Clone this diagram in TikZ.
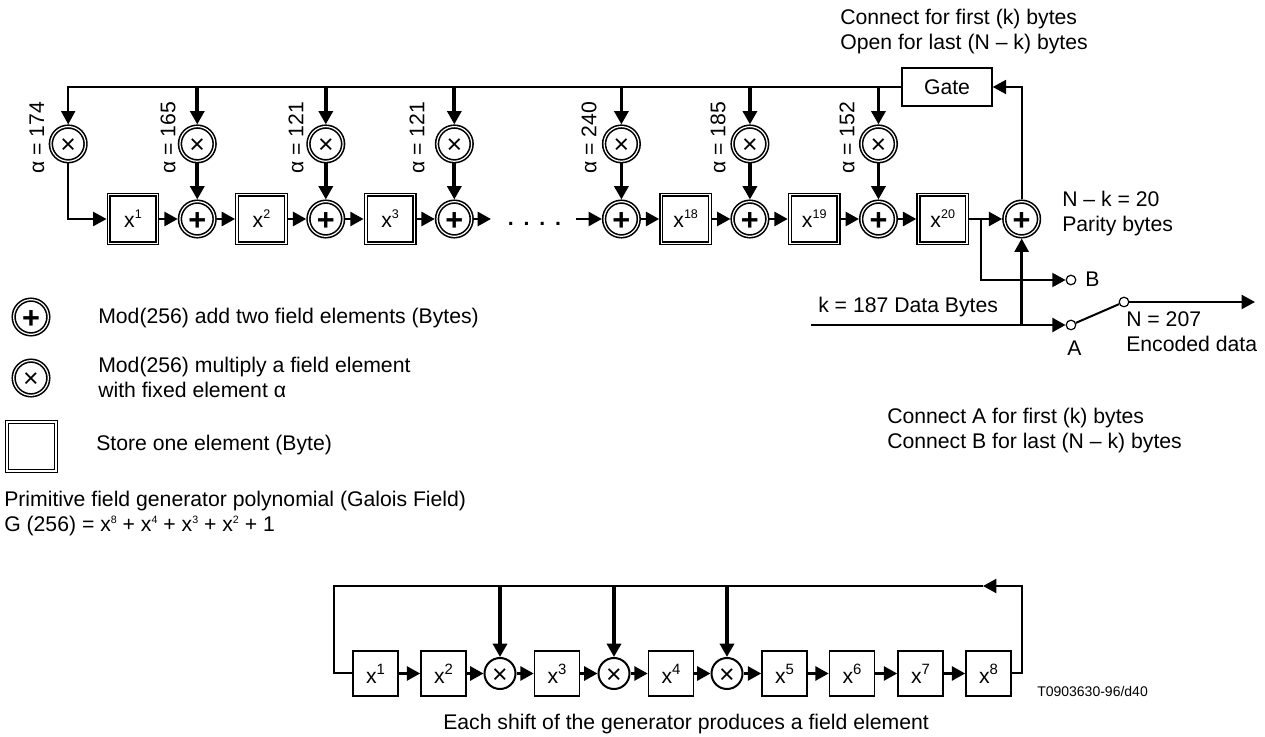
\documentclass[tikz,border=0pt]{standalone}
\usepackage{fontspec}
\setsansfont{Liberation Sans}
\usetikzlibrary{positioning,arrows.meta}
\newcommand{\xpow}[2][9.4]{x\raisebox{.42em}{\fontsize{#1}{#1}\selectfont #2}}

\begin{document}
\begin{tikzpicture}[
  x=0.75pt, y=-0.75pt,
  font=\sffamily\fontsize{15.9}{18.75}\selectfont,
  >={Triangle[length=10pt,width=10.5pt]},
  %% Node styles
  store/.style={
    rectangle, draw=black, line width=1pt, double=white, double distance=1.2pt,
    minimum size=36.5pt, inner sep=0pt, outer sep=1.6pt
  },
  addnode/.style={
    circle, draw=black, line width=1.2pt, double=white, double distance=0.9pt,
    minimum size=26pt, inner sep=0pt, outer sep=1.65pt,
    text height=16.6pt, text depth=0pt,
    font=\sffamily\bfseries\fontsize{23}{23}\selectfont
  },
  mulnode/.style={
    circle, draw=black, line width=1.2pt, double=white, double distance=0.9pt,
    minimum size=26pt, inner sep=0pt, outer sep=1.65pt,
    text height=14.4pt, text depth=0pt,
    font=\sffamily\fontsize{20}{20}\selectfont
  },
  gatebox/.style={
    rectangle, draw=black, line width=1.1pt,
    minimum width=67.5pt, minimum height=28.5pt, inner sep=0pt
  },
  shiftbox/.style={
    rectangle, draw=black, line width=1.2pt,
    minimum size=33.75pt, inner sep=0pt
  },
  gfmul/.style={
    circle, draw=black, line width=1.5pt, fill=white,
    minimum size=23.25pt, inner sep=0pt,
    text height=14.4pt, text depth=0pt,
    font=\sffamily\fontsize{20}{20}\selectfont
  },
  term/.style={
    circle, draw=black, line width=0.9pt, fill=white,
    minimum size=7.2pt, inner sep=0pt
  },
  label/.style={anchor=base west, inner sep=0pt, align=left},
  alphalab/.style={rotate=90, inner sep=0pt},
  %% Arrow styles
  thinline/.style={line width=1.5pt},
  rowarrow/.style={->, line width=2pt},
  feedarrow/.style={->, line width=2.8pt},
]
\useasboundingbox (0,0) rectangle (1265,737);

%% ── Register row ───────────────────────────────────────────────────────────
\node[store] (r1) at (133,219) {\xpow{1}};
\node[addnode, right=13.7pt of r1] (a1) {+};
\node[store, right=13.7pt of a1] (r2) {\xpow{2}};
\node[addnode, right=13.7pt of r2] (a2) {+};
\node[store, right=13.7pt of a2] (r3) {\xpow{3}};
\node[addnode, right=13.7pt of r3] (a3) {+};

\node[addnode, right=96pt of a3] (a18) {+};
\node[store, right=13.7pt of a18] (r18) {\xpow{18}};
\node[addnode, right=13.7pt of r18] (a19) {+};
\node[store, right=13.7pt of a19] (r19) {\xpow{19}};
\node[addnode, right=13.7pt of r19] (a20) {+};
\node[store, right=13.7pt of a20] (r20) {\xpow{20}};
\node[addnode, right=24.7pt of r20] (afin) {+};

%% ── Multipliers ────────────────────────────────────────────────────────────
\node[mulnode, above=27pt of a1] (m1) {×};
\node[mulnode, above=27pt of a2] (m2) {×};
\node[mulnode, above=27pt of a3] (m3) {×};
\node[mulnode, above=27pt of a18] (m18) {×};
\node[mulnode, above=27pt of a19] (m19) {×};
\node[mulnode, above=27pt of a20] (m20) {×};
\node[mulnode, left=67.5pt of m1] (m0) {×};

\node[alphalab] (l0) at (37,138) {α = 174};
\node[alphalab] (l1) at (168,138) {α = 165};
\node[alphalab] (l2) at (296,138) {α = 121};
\node[alphalab] (l3) at (417,138) {α = 121};
\node[alphalab] (l18) at (589,138) {α = 240};
\node[alphalab] (l19) at (718,138) {α = 185};
\node[alphalab] (l20) at (847,138) {α = 152};

%% ── Gate and switch ────────────────────────────────────────────────────────
\node[gatebox] (gate) at (947,87) {Gate};
\node[term] (tb) at (1071,280) {};
\node[term] (ta) at (1071,325) {};
\node[term] (ts) at (1124,302) {};
\coordinate (din) at (811,325);
\coordinate (dout) at (1255,302);
\coordinate (brch) at (981,219);
\coordinate (dots0) at (491,219);
\coordinate (dots1) at (576,219);

%% ── Feedback arrows ────────────────────────────────────────────────────────
\draw[->, thinline] (gate.west) -| (m0);
\draw[feedarrow] (m1 |- gate) -- (m1);
\draw[feedarrow] (m2 |- gate) -- (m2);
\draw[feedarrow] (m3 |- gate) -- (m3);
\draw[feedarrow] (m18 |- gate) -- (m18);
\draw[feedarrow] (m19 |- gate) -- (m19);
\draw[feedarrow] (m20 |- gate) -- (m20);
\draw[feedarrow] (m1) -- (a1);
\draw[feedarrow] (m2) -- (a2);
\draw[feedarrow] (m3) -- (a3);
\draw[feedarrow] (m18) -- (a18);
\draw[feedarrow] (m19) -- (a19);
\draw[feedarrow] (m20) -- (a20);
\draw[->, thinline] (m0) |- (r1);
\draw[->, thinline] (afin) |- (gate.east);

%% ── Row arrows ─────────────────────────────────────────────────────────────
\draw[rowarrow] (r1) -- (a1);
\draw[rowarrow] (a1) -- (r2);
\draw[rowarrow] (r2) -- (a2);
\draw[rowarrow] (a2) -- (r3);
\draw[rowarrow] (r3) -- (a3);
\draw[rowarrow] (a3) -- (dots0);
\draw[rowarrow] (dots1) -- (a18);
\draw[rowarrow] (a18) -- (r18);
\draw[rowarrow] (r18) -- (a19);
\draw[rowarrow] (a19) -- (r19);
\draw[rowarrow] (r19) -- (a20);
\draw[rowarrow] (a20) -- (r20);
\draw[rowarrow] (r20) -- (afin);
\node[anchor=base, font=\sffamily\bfseries\fontsize{15.9}{18.75}\selectfont] (dots) at (534.5,226)
  {.\hspace{7.4pt}.\hspace{7.4pt}.\hspace{7.4pt}.};

%% ── Outputs ────────────────────────────────────────────────────────────────
\draw[->, thinline] (brch) |- (tb);
\draw[rowarrow] (din) -- (ta);
\draw[rowarrow] (afin |- din) -- (afin);
\draw[thinline] (ta) -- (ts);
\draw[->, thinline] (ts) -- (dout);

%% ── Labels right ───────────────────────────────────────────────────────────
\node[label] (gatetxt) at (840,50) {Connect for first (k) bytes\\Open for last (N – k) bytes};
\node[label] (paritytxt) at (1062,232) {N – k = 20\\Parity bytes};
\node[label] (datatxt) at (818,313) {k = 187 Data Bytes};
\node[label] (btxt) at (1085,287) {B};
\node[label] (atxt) at (1067,356) {A};
\node[label] (enctxt) at (1126,352) {N = 207\\Encoded data};
\node[label] (conntxt) at (887,449) {Connect A for first (k) bytes\\Connect B for last (N – k) bytes};

%% ── Legend ─────────────────────────────────────────────────────────────────
\node[addnode] (legadd) at (31,317) {+};
\node[mulnode] (legmul) at (31,378) {×};
\node[store] (legstore) at (31.5,446.5) {};
\node[label] (legaddtxt) at (98,324) {Mod(256) add two field elements (Bytes)};
\node[label] (legmultxt) at (98,398) {Mod(256) multiply a field element\\with fixed element α};
\node[label] (legstoretxt) at (96,451) {Store one element (Byte)};
\node[label] (polytxt) at (4,532) {Primitive field generator polynomial (Galois Field)\\G (256) = \xpow[8]{8} + \xpow[8]{4} + \xpow[8]{3} + \xpow[8]{2} + 1};

%% ── Generator ──────────────────────────────────────────────────────────────
\node[shiftbox] (g1) at (375.5,673.5) {\xpow[11.2]{1}};
\node[shiftbox] (g2) at (443.5,673.5) {\xpow[11.2]{2}};
\node[gfmul] (gm1) at (500,673.5) {×};
\node[shiftbox] (g3) at (557,673.5) {\xpow[11.2]{3}};
\node[gfmul] (gm2) at (614,673.5) {×};
\node[shiftbox] (g4) at (671,673.5) {\xpow[11.2]{4}};
\node[gfmul] (gm3) at (727,673.5) {×};
\node[shiftbox] (g5) at (784.5,673.5) {\xpow[11.2]{5}};
\node[shiftbox] (g6) at (852,673.5) {\xpow[11.2]{6}};
\node[shiftbox] (g7) at (920.5,673.5) {\xpow[11.2]{7}};
\node[shiftbox] (g8) at (988.5,673.5) {\xpow[11.2]{8}};

\coordinate (loopr) at (1022,586);
\coordinate (loopa) at (983,586);
\coordinate (loopl) at (334,586);

\draw[rowarrow] (g1) -- (g2);
\draw[rowarrow] (g2) -- (gm1);
\draw[rowarrow] (gm1) -- (g3);
\draw[rowarrow] (g3) -- (gm2);
\draw[rowarrow] (gm2) -- (g4);
\draw[rowarrow] (g4) -- (gm3);
\draw[rowarrow] (gm3) -- (g5);
\draw[rowarrow] (g5) -- (g6);
\draw[rowarrow] (g6) -- (g7);
\draw[rowarrow] (g7) -- (g8);
\draw[->, thinline] (g8) -| (loopr) -- (loopa);
\draw[thinline] (loopa) -- (loopl) |- (g1);
\draw[feedarrow] (gm1 |- loopa) -- (gm1);
\draw[feedarrow] (gm2 |- loopa) -- (gm2);
\draw[feedarrow] (gm3 |- loopa) -- (gm3);

\node[label] (eachtxt) at (443,730) {Each shift of the generator produces a field element};
\node[label, font=\sffamily\fontsize{10.5}{12}\selectfont] (reftxt) at (1037,697) {T0903630-96/d40};

\end{tikzpicture}
\end{document}
